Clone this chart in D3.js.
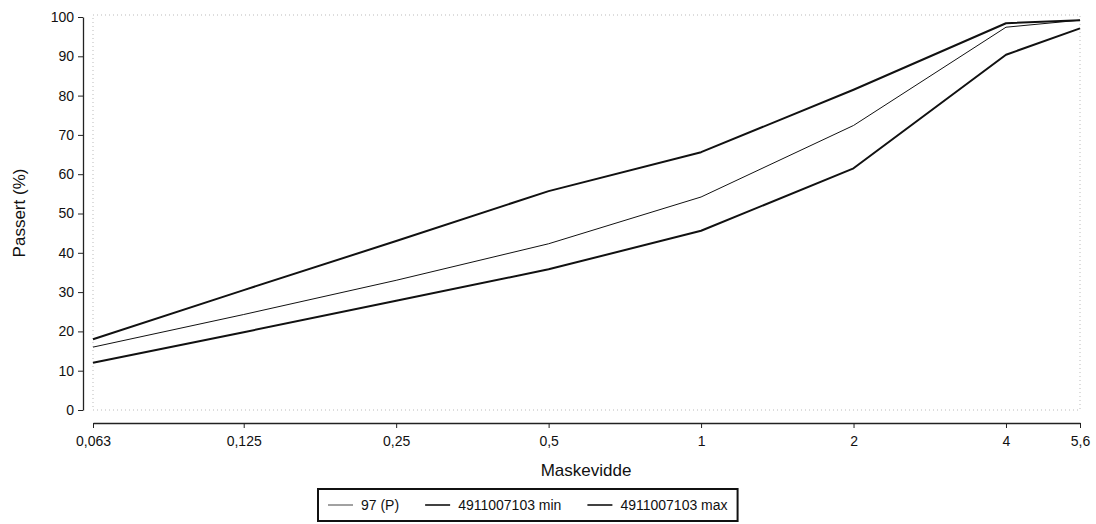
<!DOCTYPE html>
<html><head><meta charset="utf-8">
<script src="https://cdn.jsdelivr.net/npm/d3@7"></script>
<style>body{margin:0;background:#fff}svg{display:block}text{font-family:"Liberation Sans",Arial,sans-serif;fill:#111}</style>
</head><body><svg id="c" width="1096" height="524"></svg>
<script>
const sizes = [0.063, 0.125, 0.25, 0.5, 1, 2, 4, 5.6];
const tickLabels = ["0,063", "0,125", "0,25", "0,5", "1", "2", "4", "5,6"];
const seriesNames = ["97 (P)", "4911007103 min", "4911007103 max"];
const p97 = [16, 24.3, 33, 42.3, 54.2, 72.4, 97.4, 99.2];
const minVals = [12, 19.8, 27.8, 35.8, 45.6, 61.5, 90.4, 97.1];
const maxVals = [18, 30.5, 43, 55.7, 65.6, 81.5, 98.4, 99.2];
const yTicks = [0, 10, 20, 30, 40, 50, 60, 70, 80, 90, 100];

const svg = d3.select("#c");
const x = d3.scaleLog().base(2).domain([0.063, 5.6]).range([93, 1080]);
const y = d3.scaleLinear().domain([0, 100]).range([410, 17]);

// dotted plot frame
svg.append("rect").attr("x", 93).attr("y", 15).attr("width", 1080 - 93).attr("height", 410 - 15)
  .attr("fill", "none").attr("stroke", "#bbb").attr("stroke-width", 1).attr("stroke-dasharray", "1,3");

// y axis
const ya = svg.append("g").attr("transform", "translate(83,0)")
  .call(d3.axisLeft(y).tickValues(yTicks).tickSize(5).tickPadding(4).tickSizeOuter(0));
ya.select(".domain").attr("stroke", "#222").attr("stroke-width", 1.3);
ya.selectAll(".tick line").attr("stroke", "#222");
ya.selectAll("text").style("font-size", "14px").attr("fill", "#111");

// x axis
const xa = svg.append("g").attr("transform", "translate(0,423)")
  .call(d3.axisBottom(x).tickValues(sizes).tickFormat((d, i) => tickLabels[i]).tickSize(5).tickPadding(8).tickSizeOuter(0));
xa.select(".domain").attr("stroke", "#222").attr("stroke-width", 1.3);
xa.selectAll(".tick line").attr("stroke", "#222");
xa.selectAll("text").style("font-size", "14px").attr("fill", "#111");

// titles
svg.append("text").attr("transform", "translate(25,213) rotate(-90)").attr("text-anchor", "middle")
  .style("font-size", "17px").text("Passert (%)");
svg.append("text").attr("x", 586).attr("y", 476).attr("text-anchor", "middle")
  .style("font-size", "17px").text("Maskevidde");

// lines
const line = d3.line().x((d, i) => x(sizes[i])).y(d => y(d));
const series = [
  {name: seriesNames[0], vals: p97, w: 1},
  {name: seriesNames[1], vals: minVals, w: 2},
  {name: seriesNames[2], vals: maxVals, w: 2}
];
svg.selectAll("path.s").data(series).enter().append("path").attr("class", "s")
  .attr("d", d => line(d.vals)).attr("fill", "none").attr("stroke", "#111")
  .attr("stroke-width", d => d.w).attr("stroke-linejoin", "round");

// legend
const lg = svg.append("g");
const box = lg.append("rect").attr("x", 318).attr("y", 489).attr("height", 32)
  .attr("fill", "#fff").attr("stroke", "#111").attr("stroke-width", 2);
let cx = 328;
series.forEach((s, i) => {
  lg.append("line").attr("x1", cx).attr("x2", cx + 25).attr("y1", 505).attr("y2", 505)
    .attr("stroke", s.w === 1 ? "#444" : "#111").attr("stroke-width", s.w === 1 ? 1 : 1.6);
  const t = lg.append("text").attr("x", cx + 33).attr("y", 510).style("font-size", "14px").text(s.name);
  cx = cx + 33 + t.node().getComputedTextLength() + 26;
});
box.attr("width", cx - 26 + 10 - 318);
</script></body></html>
